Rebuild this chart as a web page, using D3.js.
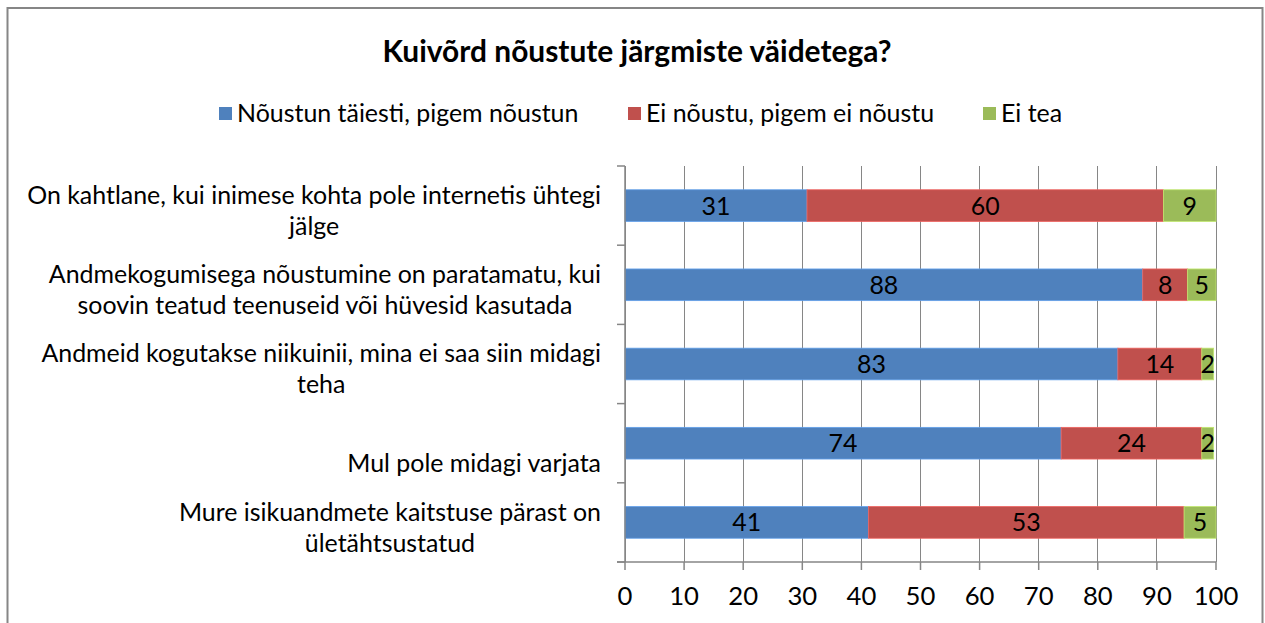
<!DOCTYPE html>
<html>
<head>
<meta charset="utf-8">
<script src="https://cdn.jsdelivr.net/npm/d3@7"></script>
<style>
  html, body { margin: 0; padding: 0; background: #fff; }
  svg { display: block; font-family: Lato, "Open Sans", sans-serif; }
</style>
</head>
<body>
<svg id="chart" width="1265" height="623"></svg>
<script>
const title = "Kuivõrd nõustute järgmiste väidetega?";
const categories = [
  "On kahtlane, kui inimese kohta pole internetis ühtegi jälge",
  "Andmekogumisega nõustumine on paratamatu, kui soovin teatud teenuseid või hüvesid kasutada",
  "Andmeid kogutakse niikuinii, mina ei saa siin midagi teha",
  "Mul pole midagi varjata",
  "Mure isikuandmete kaitstuse pärast on ületähtsustatud"
];
const categoryLines = [
  ["On kahtlane, kui inimese kohta pole internetis ühtegi", "jälge"],
  ["Andmekogumisega nõustumine on paratamatu, kui", "soovin teatud teenuseid või hüvesid kasutada"],
  ["Andmeid kogutakse niikuinii, mina ei saa siin midagi", "teha"],
  ["", "Mul pole midagi varjata"],
  ["Mure isikuandmete kaitstuse pärast on", "ületähtsustatud"]
];
const seriesNames = ["Nõustun täiesti, pigem nõustun", "Ei nõustu, pigem ei nõustu", "Ei tea"];
const seriesColors = ["#4F81BD", "#C0504D", "#9BBB59"];
const agree = [30.8, 87.6, 83.4, 73.8, 41.2];
const disagree = [60.3, 7.6, 14.2, 23.8, 53.4];
const dontKnow = [8.9, 4.8, 2.0, 2.0, 5.4];
const xTicks = [0, 10, 20, 30, 40, 50, 60, 70, 80, 90, 100];

const svg = d3.select("#chart");
const plot = { left: 625, right: 1216, top: 166, bottom: 562 };

// fit font size to reference text width (Calibri substitute)
const probe = svg.append("text").attr("font-size", 20).text(categoryLines[0][0]);
const k = 574 / probe.node().getComputedTextLength();
probe.remove();
const fs = 20 * k;
const tprobe = svg.append("text").attr("font-size", 20).attr("font-weight", "bold").text(title);
const tfs = 20 * 509 / tprobe.node().getComputedTextLength();
tprobe.remove();

// frame
svg.append("rect").attr("x", 7.5).attr("y", 8).attr("width", 1255).attr("height", 640)
  .attr("fill", "#fff").attr("stroke", "#868686").attr("stroke-width", 2);

const x = d3.scaleLinear().domain([0, 100]).range([plot.left, plot.right]);
const y = d3.scaleBand().domain(categories).range([plot.top, plot.bottom])
  .paddingInner(0.6).paddingOuter(0.3);

// gridlines
svg.append("g").selectAll("line").data(xTicks).join("line")
  .attr("x1", d => x(d)).attr("x2", d => x(d))
  .attr("y1", plot.top).attr("y2", plot.bottom)
  .attr("stroke", "#868686").attr("stroke-width", 1).attr("shape-rendering", "crispEdges");

// stacked data
const rows = categories.map((c, i) => ({ cat: c, s0: agree[i], s1: disagree[i], s2: dontKnow[i] }));
const stack = d3.stack().keys(["s0", "s1", "s2"])(rows);

stack.forEach((layer, si) => {
  const g = svg.append("g");
  g.selectAll("rect").data(layer).join("rect")
    .attr("x", d => x(d[0])).attr("width", d => x(d[1]) - x(d[0]))
    .attr("y", d => y(d.data.cat)).attr("height", y.bandwidth())
    .attr("fill", seriesColors[si])
    .attr("stroke", d3.color(seriesColors[si]).brighter(0.6)).attr("stroke-width", 0.8);
  g.selectAll("text").data(layer).join("text")
    .attr("x", d => (x(d[0]) + x(d[1])) / 2)
    .attr("y", d => y(d.data.cat) + y.bandwidth() / 2)
    .attr("dy", "0.36em").attr("text-anchor", "middle")
    .attr("font-size", fs).attr("fill", "#000")
    .text(d => d3.format(".0f")(d[1] - d[0]));
});

// axes
const axisColor = "#868686";
svg.append("line").attr("x1", plot.left).attr("x2", plot.left)
  .attr("y1", plot.top).attr("y2", plot.bottom).attr("stroke", axisColor).attr("stroke-width", 1.5);
svg.append("line").attr("x1", plot.left - 8).attr("x2", plot.right)
  .attr("y1", plot.bottom).attr("y2", plot.bottom).attr("stroke", axisColor).attr("stroke-width", 1.5);
// y boundary ticks
const bounds = d3.range(categories.length + 1).map(i => plot.top + i * y.step());
svg.append("g").selectAll("line").data(bounds).join("line")
  .attr("x1", plot.left - 8).attr("x2", plot.left)
  .attr("y1", d => d).attr("y2", d => d)
  .attr("stroke", axisColor).attr("stroke-width", 1.5);
// x ticks
svg.append("g").selectAll("line").data(xTicks).join("line")
  .attr("x1", d => x(d)).attr("x2", d => x(d))
  .attr("y1", plot.bottom).attr("y2", plot.bottom + 8)
  .attr("stroke", axisColor).attr("stroke-width", 1.5);
svg.append("g").selectAll("text").data(xTicks).join("text")
  .attr("x", d => x(d)).attr("y", 605).attr("text-anchor", "middle")
  .attr("font-size", fs * 1.03).attr("fill", "#000").text(d => d);

// category labels (centered block, right-aligned at 601)
const lineH = 31;
categories.forEach((c, i) => {
  const g = svg.append("g");
  const lines = categoryLines[i];
  const texts = lines.map((l, j) => g.append("text").attr("font-size", fs).attr("fill", "#000")
    .attr("text-anchor", "middle").text(l));
  const maxW = d3.max(texts, t => t.node().getComputedTextLength());
  const cx = 601 - maxW / 2;
  const cy = y(c) + y.bandwidth() / 2 + 5;
  texts.forEach((t, j) => {
    t.attr("x", cx).attr("y", cy + (j - (lines.length - 1) / 2) * lineH).attr("dy", "0.35em");
  });
});

// title
svg.append("text").attr("x", 637).attr("y", 52).attr("dy", "0.35em")
  .attr("text-anchor", "middle").attr("font-weight", "bold").attr("font-size", tfs)
  .attr("fill", "#000").text(title);

// legend
const legendX = [219, 628, 983];
seriesNames.forEach((n, i) => {
  svg.append("rect").attr("x", legendX[i]).attr("y", 107).attr("width", 13).attr("height", 13)
    .attr("fill", seriesColors[i]);
  svg.append("text").attr("x", legendX[i] + 18).attr("y", 113).attr("dy", "0.35em")
    .attr("font-size", fs).attr("fill", "#000").text(n);
});
</script>
</body>
</html>
